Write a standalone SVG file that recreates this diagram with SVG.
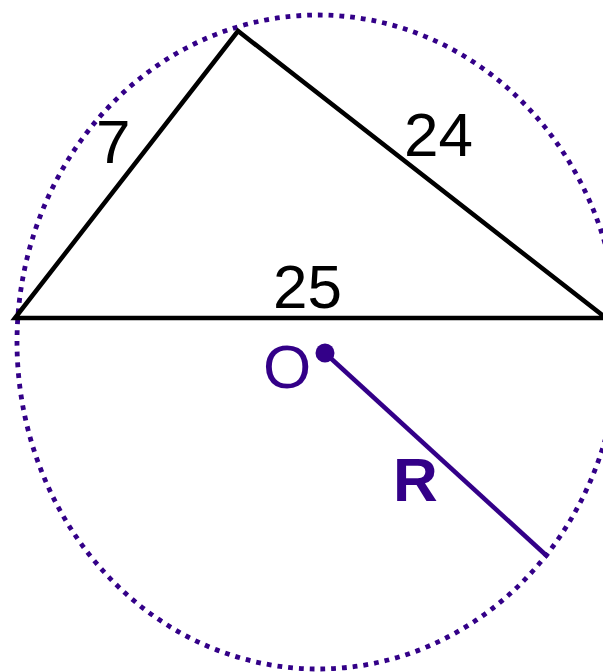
<svg xmlns="http://www.w3.org/2000/svg" width="603" height="672" viewBox="0 0 603 672">
<style>
.lbl{font-family:"Liberation Sans",Arial,sans-serif;font-size:62px;fill:#000}
.pur{fill:#330088}
.edge{stroke:#000;stroke-width:4.5;fill:none;stroke-linejoin:miter}
</style>
<rect width="603" height="672" fill="#fff"/>
<g id="circle">
<ellipse cx="318" cy="342" rx="301" ry="327" fill="none" stroke="#330088" stroke-width="4.8" stroke-dasharray="4.8 6"/>
</g>
<g id="triangle">
<polygon class="edge" points="15,318 238,31 606,318"/>
</g>
<g id="connectors">
<line x1="325" y1="353" x2="548" y2="557" stroke="#330088" stroke-width="4.5"/>
</g>
<g id="center">
<circle cx="325" cy="353" r="9.5" fill="#330088"/>
<text class="lbl pur" x="263" y="388">O</text>
</g>
<g id="labels">
<text class="lbl" x="96" y="163">7</text>
<text class="lbl" x="404" y="156">24</text>
<text class="lbl" x="273" y="308">25</text>
<text class="lbl pur" x="393" y="501" style="font-weight:bold">R</text>
</g>
</svg>
